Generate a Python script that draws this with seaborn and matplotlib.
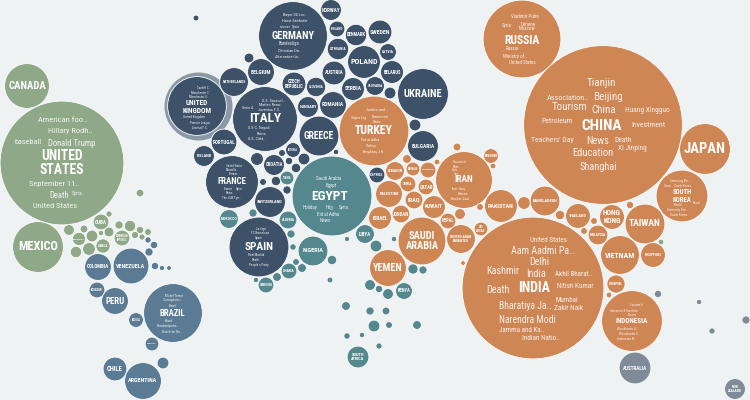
import matplotlib
matplotlib.use("Agg")
import matplotlib.pyplot as plt
import matplotlib.font_manager as fm
import seaborn as sns
import pandas as pd

# Bubble positions: x, y, radius
na_x = [27,62,140,101,109,38,69,84,109,119,130,140,148,135,142,101,79,92,122,103,89,76,661]
na_y = [86,163,193,222,214,247,230,229,232,225,226,230,232,235,237,233,239,236,238,246,249,252,242]
na_r = [22,61.5,3.5,7.5,2.7,25,5,3.5,4.5,3.7,5.3,3.3,3,3.2,2.7,2.3,6.2,5.5,7.5,6.7,6,5.3,2.5]

sa_x = [148,154,149,98,131,155,162,169,97,115,136,173,152,163,115,143]
sa_y = [240,245,252,267,266,266,268,268,290,301,320,313,344,363,369,381]
sa_r = [2.7,3.3,3.7,13,17.5,3.3,2.2,2,7.5,13,7,29,6.5,5.5,11.5,18]

eu_x = [196,293,249,261,234,294,265,197,308,316,331,337,356,380,338,388,364,392,334,353,375,390,333,423,319,415,423,336,304,224,204,257,274,293,282,289,296,276,263,287,232,270,259,377]
eu_y = [18,36,58,72,82,84,119,106,107,87,10,29,35,32,49,52,62,72,73,89,86,93,105,94,136,125,146,152,159,142,156,159,165,150,153,161,168,181,182,190,182,202,247,175]
eu_r = [2.5,34,4.5,13,14,11.5,32,29,10,9.3,10,7.5,10.3,11.5,10.3,8,16,11,11.5,11,9,5.5,13,25,19.5,5.5,15,2.3,5.5,12.5,10,6,10,7,3,3.3,4.3,4.3,3,3.7,26,15,29.5,7.5]

af_x = [287,332,229,253,288,291,347,293,296,302,332,313,289,277,256,266,330,370,379,388,404,346,370,386,374,389,417,347,362,379,358,365,376,394,413,423]
af_y = [178,196,219,213,220,234,239,247,262,268,260,251,271,277,280,285,280,285,289,294,291,306,311,311,326,325,325,336,335,346,357,234,246,239,269,270]
af_r = [6.5,39.5,9,3.7,8.5,3.7,2.2,2.8,3,4,4.3,14.5,7.5,4,2.3,7.5,2.5,5,3.3,5,8,4,3.7,3.5,5.5,3,4,2.8,2.3,2.7,10.5,9,5.5,2.3,4.7,3.7]

as_x = [374,395,413,428,407,437,457,389,408,426,414,434,380,401,464,491,493,460,480,501,448,481,461,422,388,463,522,603,705,682,524,545,560,578,612,630,594,645,598,584,620,653,616,609,632,533]
as_y = [131,171,169,170,159,162,147,194,184,187,200,207,218,214,180,156,166,214,207,206,221,229,239,241,268,263,39,125,149,196,203,201,215,216,217,205,221,224,235,231,255,255,284,295,321,288]
as_r = [34.5,9,6.5,7.5,4,2.5,3.5,13,7.5,7.5,8.5,11,11,8.5,28,7,2.5,5,3,16,7.5,6.5,14,23.5,18,2,38.5,79,25,25.5,6,14.5,4.3,12,12,3.3,3,19.5,9.5,3,19,12,8.7,2.5,30,70.5]

oc_x = [635,735,658,699,746,712]
oc_y = [368,389,294,302,320,331]
oc_r = [15.5,10,3.3,2.3,3.7,2.7]

# Country labels
country_names = ["CANADA","UNITED\nSTATES","MEXICO","CUBA","COLOMBIA","VENEZUELA","ECUADOR","PERU","BOLIVIA","BRAZIL","URUGUAY","CHILE","ARGENTINA",
 "GERMANY","BELGIUM","NETHERLANDS","CZECH\nREPUBLIC","ITALY","UNITED\nKINGDOM","HUNGARY","SLOVENIA","NORWAY","FINLAND","DENMARK","SWEDEN","LITHUANIA","LATVIA","POLAND","BELARUS","AUSTRIA","SERBIA","SLOVAKIA","ROMANIA","UKRAINE","GREECE","BULGARIA","PORTUGAL","IRELAND","CROATIA","ESTONIA","FRANCE","SWITZERLAND","SPAIN","CYPRUS",
 "EGYPT","TUNISIA","MOROCCO","ALGERIA","NIGERIA","GHANA","CAMEROON","KENYA","SOUTH\nAFRICA","LIBYA","YEMEN",
 "TURKEY","LEBANON","BAHRAIN","AFGHANISTAN","PALESTINE","SYRIA","QATAR","IRAQ","KUWAIT","ISRAEL","JORDAN","IRAN","PAKISTAN","NEPAL","SRI\nLANKA","UNITED ARAB\nEMIRATES","SAUDI\nARABIA","RUSSIA","CHINA","JAPAN","SOUTH\nKOREA","BANGLADESH","THAILAND","HONG\nKONG","TAIWAN","MALAYSIA","VIETNAM","PHILIPPINES","SINGAPORE","INDONESIA","INDIA","AUSTRALIA","NEW\nZEALAND","GUATEMALA","DOMINICAN\nREPUBLIC","JAMAICA","MYANMAR"]
country_x = [27,62,38,101,98,131,97,115,136,172,152,115,143,
 293,261,234,294,265,197,308,316,331,337,356,380,338,388,364,392,334,353,375,333,423,319,423,224,204,274,293,232,270,259,377,
 330,287,229,288,313,289,266,404,358,365,388,
 374,395,413,428,389,408,426,414,434,380,401,464,501,448,481,461,422,522,602,705,682,545,578,612,645,598,620,653,616,632,534,635,735,79,122,103,491]
country_y = [86,163,247,222,267,266,290,301,320,314,344,369,381,
 36,72,82,84,119,107,107,87,10,29,35,32,49,52,62,72,73,89,86,105,94,136,146,142,156,165,150,182,202,247,175,
 197,178,219,220,251,271,285,291,357,234,268,
 131,171,169,170,194,184,187,200,207,218,214,180,206,221,229,239,241,40,126,149,196,201,216,217,224,235,255,255,284,321,288,368,389,239,238,246,156]
country_size = [7.7,9.8,8.8,3.8,3.6,4.3,2.2,6.4,2,6.2,1.7,4.8,4.3,
 7.5,4,2.7,3.3,9.5,5.3,3.1,2.5,3.7,2.4,3.3,4.2,2.6,2.8,5.8,3.3,3.7,4.1,2.6,4,7.7,7,4,3.6,3.1,3.3,2,6.4,3.2,8.2,2.9,
 9.7,1.9,2.9,2.6,4.5,2.8,2,3.3,3.2,3.6,7.4,
 8.5,2.7,2,1.5,3.1,2.8,3.3,4.5,4,3.8,3.4,6.7,4.3,3.3,2.3,2.7,7.5,8.4,11,10.5,4.9,3.2,3,5.4,6.8,2.6,5.7,2.3,2.1,5.1,10,3.7,2.6,1.6,1.9,2,2.2]

# Keywords inside the large bubbles: text, x, y, size
usa_terms = [("American foo..",63,120,6.1),("Hillary Rodh..",70,131,6.1),("baseball",28,142,5.9),("Donald Trump",72,143,6.2),
             ("September 11..",54,184,6.1),("Death",59,196,6.2),("Syria",77,193,4),("United States",55,206,6)]
germany_terms = [("Bayer 04 Lev..",295,15,3.2),("Horst Seehofer",295,21,3.2),("soccer",285,27,3),("Syria",296,27,3),
                 ("Bundesliga",289,44,3.4),("Christian Da..",290,51,3.2),("Alternative für..",288,57,3)]
uk_terms = [("Cardiff C.",203,88,2.3),("Manchester C.",200,93,2.3),("Manchester U.",198,97,2.3),
            ("United Kingdom",194,117,2.5),("Premier League",200,123,2.3),("Arsenal F.C.",200,128,2.3)]
italy_terms = [("U.S. Sassuol..",273,101,3),("Matteo Renzi",270,105,3),("Serie A",248,108,3),("Juventus F.C.",269,110,3),
               ("S.S.C. Napoli",259,128,3),("Roma",261,134,3),("U.S. Città..",257,139,3)]
turkey_terms = [("Justice and..",376,110,3),("Süper Lig",359,118,3),("Demirören",380,117,3),("News",377,122,2.8),
                ("Eid al Adha",370,140,3),("Turkey",371,146,3),("Beşiktaş J.K.",374,152,3)]
france_terms = [("United States",234,166,2.2),("Marseille..",232,170,2.2),("Premier..",234,174,2.2),("France",228,189,2.4),
                ("Syria",239,189,2.4),("News",229,193,2.4),("The LGBT pe..",231,198,2.4)]
egypt_terms = [("Saudi Arabia",329,179,3.7),("Egypt",331,186,3.7),("Holiday",310,207,3.7),("Hajj",330,208,3.7),("Syria",344,208,3.7),
               ("Eid al Adha",328,215,3.7),("News",325,220,3.7)]
spain_terms = [("La Liga",261,229,2.5),("FC Barcelona",260,233.5,2.5),("Spain",259,238,2.5),("Real Madrid",256,255,2.5),
               ("Death",256,260,2.5),("People's Party",259,265,2.5)]
iran_terms = [("Hassan al..",460,162,2.3),("News",456,166.5,2.2),("Syria",455,170,2.2),("Iran",456,174,2.2),
              ("Iran–Iraq..",460,189,2.7),("Bahrain",463,194,2.5),("Bashar Saul..",461,199,2.7)]
russia_terms = [("Vladimir Putin",525,16,3.6),("Syria",507,26,3.6),("Ukraine",528,24,3.6),("Moscow",527,29,3.6),
                ("Russia",512,49,3.6),("Ministry of..",515,56,3.6),("United States",522,63,3.6)]
china_terms = [("Tianjin",601,83,8),("Association..",568,98,5.9),("Beijing",608,97,8),("Tourism",569,107,7.8),("China",604,110,7.8),
               ("Huang Xingguo",647,111,5.3),("Petroleum",557,121,5.6),("Investment",648,125,5.6),("Teachers' Day",552,140,5.6),
               ("News",598,141,7.6),("Death",623,140,5.4),("Xi Jinping",632,149,5.3),("Education",593,153,7.6),("Shanghai",598,167,7.5)]
korea_terms = [("Samsung Ele..",680,181,2.5),("Ulsan",668,186,2.5),("South Korea",683,186,2.5),("Seoul",697,203,2.5),
               ("Kimchi",678,205.5,2.3),("Samsung Gro..",677,210,2.5),("South Korea",679,214.5,2.5)]
india_terms = [("United States",549,240,5),("Aam Aadmi Pa..",543,251,7.2),("Delhi",539,262,7.3),("Kashmir",503,271,7.3),("India",536,274,7.3),
               ("Akhil Bharat..",574,275,5),("Death",498,290,7.3),("Nitish Kumar",575,287,5.1),("Bharatiya Ja..",525,306,7),("Mumbai",567,301,5),
               ("Zakir Naik",569,309,5.2),("Narendra Modi",527,320,6.9),("Jammu and Ka..",522,331,5),("Indian Natio..",541,339,5.1)]
indonesia_terms = [("Liputan 6",636,305,2.5),("Indonesia 8 Hari Kita",624,311,2.4),("Soccer",632,315,2.4),("Woodlands U.",627,329,2.6),
                   ("Woodlands C.",629,334,2.6),("Indonesia N.",626,339,2.6)]
brazil_terms = [("Michel Temer",174,296,2.4),("Corruption i..",173,300,2.7),("Brazil",173,306,2.4),("Brazil",169,321,2.7),
                ("Rondonópolis..",168,326,2.7),("Dutch de Ro..",172,332,2.7)]

BG = "#eef2f2"
PALETTE = {"North America": "#8fa888", "South America": "#5a7b93", "Europe": "#3d5269",
           "Africa": "#55878f", "Asia": "#cf8655", "Oceania": "#7f8b99"}

frames = []
for name, xs, ys, rs in [("North America", na_x, na_y, na_r), ("South America", sa_x, sa_y, sa_r),
                         ("Europe", eu_x, eu_y, eu_r), ("Africa", af_x, af_y, af_r),
                         ("Asia", as_x, as_y, as_r), ("Oceania", oc_x, oc_y, oc_r)]:
    frames.append(pd.DataFrame({"x": xs, "y": ys, "r": rs, "region": name}))
df = pd.concat(frames, ignore_index=True)
df["area"] = (df["r"] + 0.4) ** 2

sns.set_theme(style="white", rc={"figure.facecolor": BG, "axes.facecolor": BG})
condensed = [f for f in ["Roboto Condensed", "Liberation Sans Narrow", "Roboto"]
             if any(e.name == f for e in fm.fontManager.ttflist)]
plt.rcParams["font.family"] = condensed + ["DejaVu Sans"]

fig = plt.figure(figsize=(7.5, 4), dpi=100, facecolor=BG)
ax = fig.add_axes([0, 0, 1, 1])
PX = 72 / fig.dpi
scale = (2 * PX) ** 2

# highlight ring round the United Kingdom
sns.scatterplot(x=[197.5], y=[106], s=scale * 34 ** 2, color="#8b99a7", linewidth=0, ax=ax, zorder=1, legend=False)

amin, amax = df["area"].min(), df["area"].max()
sns.scatterplot(data=df, x="x", y="y", hue="region", palette=PALETTE, size="area",
                size_norm=(amin, amax), sizes=(scale * amin, scale * amax),
                edgecolor="#fbfcfc", linewidth=0.6, alpha=1, ax=ax, zorder=2, legend=False)

ax.set_xlim(0, 750)
ax.set_ylim(400, 0)
ax.set_xlabel("")
ax.set_ylabel("")
ax.axis("off")

for name, x, y, size in zip(country_names, country_x, country_y, country_size):
    ax.text(x, y, name, ha="center", va="center", color="white", fontsize=size,
            fontweight="bold", linespacing=0.95, zorder=4)

for terms in [usa_terms, germany_terms, uk_terms, italy_terms, turkey_terms, france_terms, egypt_terms, spain_terms,
              iran_terms, russia_terms, china_terms, korea_terms, india_terms, indonesia_terms, brazil_terms]:
    for word, x, y, size in terms:
        ax.text(x, y, word, ha="center", va="center", color="#ffffff", alpha=0.88, fontsize=size, zorder=3)

fig.savefig("out.png", dpi=100, facecolor=BG)
